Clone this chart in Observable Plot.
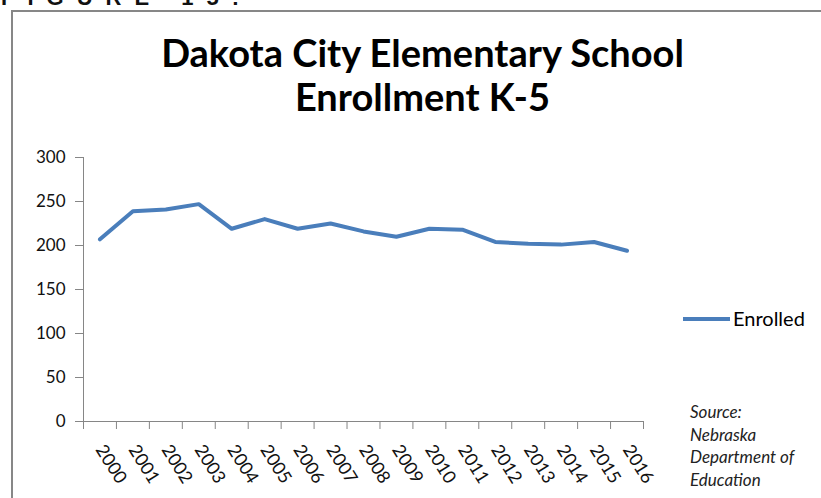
<!DOCTYPE html>
<html>
<head>
<meta charset="utf-8">
<script src="https://cdn.jsdelivr.net/npm/d3@7"></script>
<script src="https://cdn.jsdelivr.net/npm/@observablehq/plot@0.6"></script>
<style>
  html, body { margin: 0; padding: 0; background: #fff; }
  #wrap { position: relative; width: 821px; height: 498px; overflow: hidden; background: #fff; font-family: Lato, "Liberation Sans", sans-serif; }
  #fig { position: absolute; left: 1px; top: -13px; font: bold 22px "Liberation Sans", sans-serif; letter-spacing: 13px; line-height: 22px; color: #111; white-space: nowrap; }
  #frame { position: absolute; left: 11px; top: 10px; width: 840px; height: 520px; border: 2px solid #878787; box-sizing: border-box; }
  #title { position: absolute; left: 12px; width: 821px; top: 30px; text-align: center; font-weight: bold; font-size: 38px; line-height: 44px; color: #000; }
  #chart { position: absolute; left: 0; top: 0; }
  #legline { position: absolute; left: 683px; top: 317px; width: 47px; height: 4px; background: #4A7EBB; }
  #legtext { position: absolute; left: 733px; top: 308px; font-size: 20px; line-height: 21px; color: #000; }
  #source { position: absolute; left: 690px; top: 401px; font-style: italic; font-size: 17px; line-height: 22.5px; color: #222; }
</style>
</head>
<body>
<div id="wrap">
  <div id="fig">FIGURE 15:</div>
  <div id="frame"></div>
  <div id="title">Dakota City Elementary School<br>Enrollment K-5</div>
  <div id="chart"></div>
  <div id="legline"></div>
  <div id="legtext">Enrolled</div>
  <div id="source">Source:<br>Nebraska<br>Department of<br>Education</div>
</div>
<script>
const years = [2000, 2001, 2002, 2003, 2004, 2005, 2006, 2007, 2008, 2009, 2010, 2011, 2012, 2013, 2014, 2015, 2016];
const enrolled = [207, 239, 241, 247, 219, 230, 219, 225, 216, 210, 219, 218, 204, 202, 201, 204, 194];
const yTicks = [0, 50, 100, 150, 200, 250, 300];

const data = years.map((year, i) => ({year, enrolled: enrolled[i]}));
const xDomain = [years[0] - 0.5, years[years.length - 1] + 0.5];
const boundaries = years.map(y => y - 0.5).concat([years[years.length - 1] + 0.5]);
const axisGray = "#868686";

const chart = Plot.plot({
  width: 821,
  height: 498,
  marginLeft: 83,
  marginRight: 178,
  marginTop: 157,
  marginBottom: 77,
  style: {fontFamily: "Lato, 'Liberation Sans', sans-serif", fontSize: "16px", color: "#000", background: "transparent"},
  x: {domain: xDomain},
  y: {domain: [yTicks[0], yTicks[yTicks.length - 1]]},
  marks: [
    Plot.ruleY([yTicks[0]], {stroke: axisGray}),
    Plot.ruleX([xDomain[0]], {y1: yTicks[0], y2: yTicks[yTicks.length - 1], stroke: axisGray}),
    Plot.axisY({ticks: yTicks, tickSize: 8, tickPadding: 10, stroke: axisGray, fill: "#111", label: null, fontSize: 17}),
    Plot.axisX({ticks: boundaries, tickSize: 8, tickFormat: () => "", stroke: axisGray, label: null}),
    Plot.text(data, {x: "year", text: d => String(d.year), frameAnchor: "bottom", rotate: 58, textAnchor: "start", lineAnchor: "middle", dx: 0, dy: 25, fontSize: 18, fill: "#111"}),
    Plot.line(data, {x: "year", y: "enrolled", stroke: "#4A7EBB", strokeWidth: 4, strokeLinejoin: "round"})
  ]
});
document.getElementById("chart").appendChild(chart);
</script>
</body>
</html>
